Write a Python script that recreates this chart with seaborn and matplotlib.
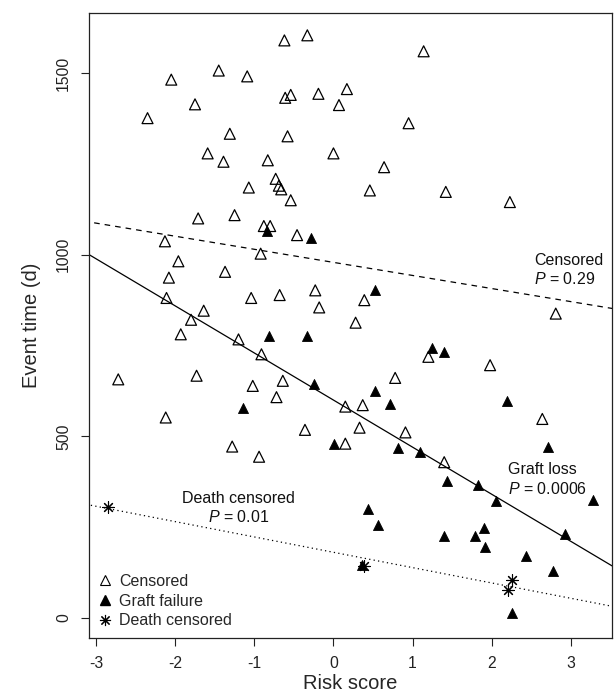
"""
Risk score vs event time, three outcome groups with fitted lines
"""

import numpy as np
import pandas as pd
import matplotlib
matplotlib.use("Agg")
import matplotlib.pyplot as plt
from matplotlib.lines import Line2D
import seaborn as sns

sns.set_style("white")
plt.rcParams["font.family"] = ["Liberation Sans", "DejaVu Sans"]
plt.rcParams["axes.unicode_minus"] = False
plt.rcParams["mathtext.fontset"] = "custom"
plt.rcParams["mathtext.it"] = "Liberation Sans:italic"
plt.rcParams["mathtext.rm"] = "Liberation Sans"


# Data

censored_x = [-0.62, -0.33, -1.45, -1.09, -2.05, -0.61, -0.54, -0.19, 0.07, -1.75,
              -2.35, -1.31, -0.58, -1.59, -1.39, -0.83, 0.00, -0.73, -0.69, -0.66,
              -1.07, -0.54, -1.71, -1.25, -0.88, -0.80, -0.46,
              1.14, 0.17, 0.95, 0.64, 0.46, 1.42, 2.23,
              -2.13, -0.92, -1.96, -1.37, -2.08, -2.11, -1.04, -0.68, -0.23, -0.18,
              -1.64, -1.80, -1.93, -1.20, -0.91, -2.72, -1.73, -0.64, -1.02, -0.72,
              -2.12, -0.36, -1.28, -0.94,
              0.39, 0.28, 2.81, 1.20, 1.98, 0.78, 0.37, 0.15, 2.64, 0.33,
              0.91, 0.15, 1.40]
censored_y = [1590, 1604, 1507, 1491, 1482, 1432, 1440, 1443, 1412, 1414,
              1376, 1333, 1326, 1279, 1256, 1260, 1279, 1209, 1190, 1180,
              1185, 1150, 1100, 1109, 1079, 1079, 1054,
              1560, 1456, 1362, 1241, 1177, 1173, 1145,
              1037, 1003, 982, 953, 937, 881, 881, 889, 902, 855,
              846, 821, 781, 767, 726, 657, 667, 653, 639, 608,
              552, 518, 472, 444,
              875, 813, 838, 719, 696, 661, 586, 582, 548, 524,
              511, 480, 429]

failure_x = [-0.29, -0.84, 0.53, -0.81, -0.34, -0.25, -1.14, 0.01, 1.25, 1.40,
             0.52, 2.19, 0.71, 2.71, 0.81, 1.09, 1.43, 1.83, 2.06, 3.28,
             0.44, 0.56, 1.90, 1.40, 1.79, 2.93, 1.92, 2.44, 2.77, 0.36, 2.26]
failure_y = [1047, 1066, 902, 777, 777, 643, 579, 479, 742, 733,
             625, 597, 588, 472, 467, 457, 377, 366, 323, 325,
             300, 255, 249, 227, 227, 231, 195, 171, 130, 147, 14]

death_x = [-2.85, 0.39, 2.26, 2.21]
death_y = [305, 144, 105, 78]

# fitted lines: intercept, slope
line_names = ["Censored", "Graft loss", "Death censored"]
line_intercepts = [979, 600, 181]
line_slopes = [-36.0, -129.6, -42.2]
line_pvalues = ["0.29", "0.0006", "0.01"]


# Figure

fig = plt.figure(figsize=(6.15, 6.92), dpi=100)
ax = fig.add_axes([0.1447, 0.078, 0.8503, 0.903])

xlim = (-3.09, 3.52)
ylim = (-55, 1665)

xs = np.array([xlim[0] - 0.2, xlim[1] + 0.2])
styles = [(0, (4.5, 4.0)), "-", (0, (1.0, 2.6))]
for b0, b1, ls in zip(line_intercepts, line_slopes, styles):
    fit = pd.DataFrame({"x": xs, "y": b0 + b1 * xs})
    sns.lineplot(data=fit, x="x", y="y", ax=ax, color="black", lw=0.9,
                 linestyle=ls, estimator=None, sort=False)

sns.scatterplot(x=failure_x, y=failure_y, ax=ax, marker="^", s=52,
                color="black", edgecolor="black", linewidth=0.6, zorder=3)

sns.scatterplot(x=censored_x, y=censored_y, ax=ax, marker="^", s=62,
                linewidth=0.9, zorder=3)
ax.collections[-1].set_facecolor("none")
ax.collections[-1].set_edgecolor("black")

sns.scatterplot(x=death_x, y=death_y, ax=ax, marker=(8, 2, 0), s=70,
                color="black", linewidth=0.8, zorder=3)

ax.set_xlim(*xlim)
ax.set_ylim(*ylim)
ax.set_xticks([-3, -2, -1, 0, 1, 2, 3])
ax.set_yticks([0, 500, 1000, 1500])
ax.set_yticklabels(["0", "500", "1000", "1500"], rotation=90, va="center")
ax.tick_params(axis="both", length=6, width=0.8, pad=7, labelsize=11.3,
               colors="#222222", direction="out", bottom=True, left=True)
for sp in ax.spines.values():
    sp.set_color("#222222")
    sp.set_linewidth(0.9)

ax.set_xlabel("Risk score", fontsize=14.5, labelpad=2)
ax.set_ylabel("Event time (d)", fontsize=14.5, labelpad=11)

# annotations for each fitted line
txt = dict(fontsize=11.5, color="#111111")
ax.text(2.54, 985, line_names[0], ha="left", va="center", **txt)
ax.text(2.54, 933, "$P$ = " + line_pvalues[0], ha="left", va="center", **txt)
ax.text(2.21, 410, line_names[1], ha="left", va="center", **txt)
ax.text(2.21, 355, "$P$ = " + line_pvalues[1], ha="left", va="center", **txt)
ax.text(-1.2, 330, line_names[2], ha="center", va="center", **txt)
ax.text(-1.2, 278, "$P$ = " + line_pvalues[2], ha="center", va="center", **txt)

handles = [
    Line2D([], [], ls="none", marker="^", ms=7, mfc="none", mec="black", mew=0.8),
    Line2D([], [], ls="none", marker="^", ms=7, mfc="black", mec="black"),
    Line2D([], [], ls="none", marker=(8, 2, 0), ms=8, color="black", mew=0.8),
]
ax.legend(handles, ["Censored", "Graft failure", "Death censored"],
          loc="lower left", frameon=False, fontsize=11.5, handlelength=0.8,
          handletextpad=0.5, labelspacing=0.3, borderaxespad=0.3,
          borderpad=0.3)

fig.savefig("out.png", dpi=100)
